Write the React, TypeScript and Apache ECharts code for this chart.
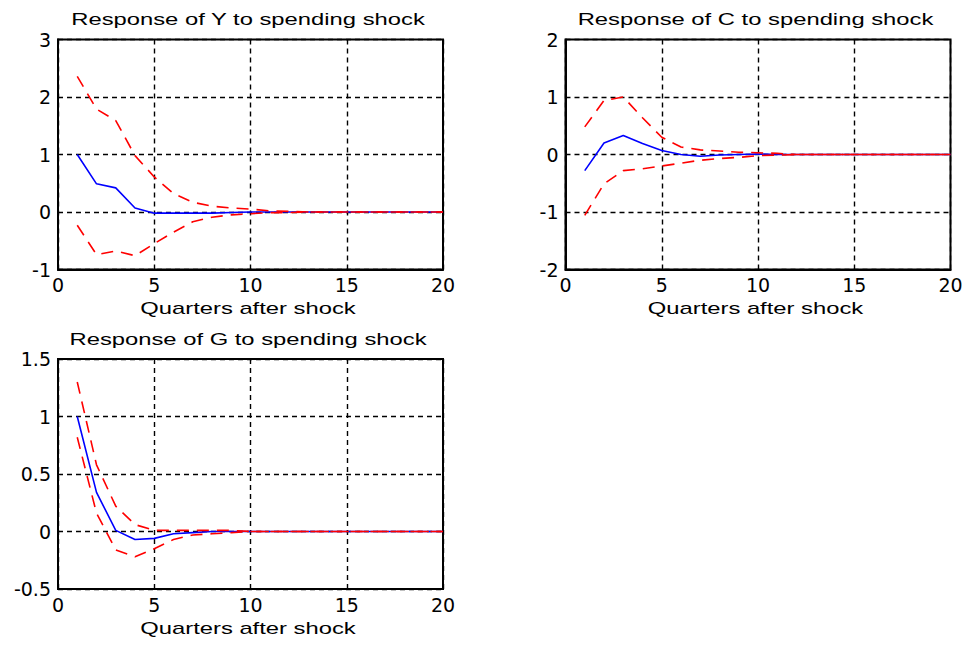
import React, { useEffect, useRef } from "react";
import * as echarts from "echarts";

const quarters = [1, 2, 3, 4, 5, 6, 7, 8, 9, 10, 11, 12, 13, 14, 15, 16, 17, 18, 19, 20];

const yResp = [1.0, 0.49, 0.42, 0.07, -0.02, -0.02, -0.02, -0.02, -0.01, 0.0, 0, 0, 0, 0, 0, 0, 0, 0, 0, 0];
const yUpper = [2.36, 1.79, 1.59, 0.98, 0.61, 0.32, 0.17, 0.1, 0.07, 0.05, 0.02, 0.01, 0, 0, 0, 0, 0, 0, 0, 0];
const yLower = [-0.23, -0.74, -0.68, -0.76, -0.55, -0.35, -0.17, -0.09, -0.05, -0.03, -0.01, -0.01, 0, 0, 0, 0, 0, 0, 0, 0];

const cResp = [-0.28, 0.2, 0.33, 0.19, 0.07, 0.0, -0.03, -0.01, 0.0, 0.01, 0, 0, 0, 0, 0, 0, 0, 0, 0, 0];
const cUpper = [0.48, 0.94, 1.0, 0.64, 0.3, 0.13, 0.08, 0.06, 0.04, 0.03, 0.02, 0, 0, 0, 0, 0, 0, 0, 0, 0];
const cLower = [-1.06, -0.51, -0.28, -0.25, -0.2, -0.15, -0.1, -0.07, -0.05, -0.02, -0.01, 0, 0, 0, 0, 0, 0, 0, 0, 0];

const gResp = [1.0, 0.34, 0.01, -0.07, -0.06, -0.02, -0.01, 0.0, 0, 0, 0, 0, 0, 0, 0, 0, 0, 0, 0, 0];
const gUpper = [1.3, 0.58, 0.22, 0.06, 0.01, 0.01, 0.01, 0.01, 0.01, 0, 0, 0, 0, 0, 0, 0, 0, 0, 0, 0];
const gLower = [0.82, 0.16, -0.16, -0.22, -0.15, -0.07, -0.03, -0.02, -0.01, 0, 0, 0, 0, 0, 0, 0, 0, 0, 0, 0];

const titles = [
  "Response of Y to spending shock",
  "Response of C to spending shock",
  "Response of G to spending shock",
];
const xAxisTitle = "Quarters after shock";
const xTicks = { min: 0, max: 20, interval: 5 };
const yRanges = [
  { min: -1, max: 3, interval: 1 },
  { min: -2, max: 2, interval: 1 },
  { min: -0.5, max: 1.5, interval: 0.5 },
];

export default function App() {
  const ref = useRef<HTMLDivElement>(null);
  useEffect(() => {
    document.body.style.margin = "0";
    if (!ref.current) return;
    const chart = echarts.init(ref.current, undefined, { renderer: "svg" });

    const grids = [
      { left: 58, top: 39.5, width: 385, height: 230 },
      { left: 565.5, top: 39.5, width: 385, height: 230 },
      { left: 58, top: 359, width: 385, height: 230 },
    ];
    const tickFont = { fontFamily: "DejaVu Sans", fontSize: 19, color: "#000" };
    const gridLine = { show: true, lineStyle: { color: "#000", width: 1.4, type: [5, 4] as any } };

    const xAxes = grids.map((_, i) => ({
      type: "value" as const,
      gridIndex: i,
      min: xTicks.min,
      max: xTicks.max,
      interval: xTicks.interval,
      axisLine: { show: true, onZero: false, lineStyle: { color: "#000", width: 2 } },
      axisTick: { show: true, inside: true, length: 4, lineStyle: { color: "#000" } },
      axisLabel: { ...tickFont, margin: 6 },
      splitLine: gridLine,
    }));
    const yAxes = grids.map((_, i) => ({
      type: "value" as const,
      gridIndex: i,
      min: yRanges[i].min,
      max: yRanges[i].max,
      interval: yRanges[i].interval,
      axisLine: { show: true, onZero: false, lineStyle: { color: "#000", width: 2 } },
      axisTick: { show: true, inside: true, length: 4, lineStyle: { color: "#000" } },
      axisLabel: { ...tickFont, margin: 7 },
      splitLine: gridLine,
    }));

    const sets = [
      [yResp, yUpper, yLower],
      [cResp, cUpper, cLower],
      [gResp, gUpper, gLower],
    ];
    const series: any[] = [];
    sets.forEach((s, i) => {
      const mk = (vals: number[], color: string, dashed: boolean) => ({
        type: "line",
        xAxisIndex: i,
        yAxisIndex: i,
        data: quarters.map((q, k) => [q, vals[k]]),
        showSymbol: false,
        symbol: "none",
        lineStyle: { color, width: 1.6, type: dashed ? [12, 8] : "solid" },
        z: dashed ? 3 : 2,
      });
      series.push(mk(s[0], "#0000ff", false));
      series.push(mk(s[1], "#ff0000", true));
      series.push(mk(s[2], "#ff0000", true));
    });

    const textStyle = (text: string) => ({
      text,
      fill: "#000",
      fontSize: 17,
      fontFamily: "Liberation Sans",
      align: "center",
      verticalAlign: "middle",
    });
    const labelPos = [
      { cx: 248, ty: 19, ny: 308 },
      { cx: 755.5, ty: 19, ny: 308 },
      { cx: 248, ty: 339, ny: 628 },
    ];
    const graphics: any[] = [];
    labelPos.forEach((p, i) => {
      graphics.push({ type: "text", x: p.cx, y: p.ty, scaleX: 1.4, style: textStyle(titles[i]) });
      graphics.push({ type: "text", x: p.cx, y: p.ny, scaleX: 1.4, style: textStyle(xAxisTitle) });
    });

    chart.setOption({
      animation: false,
      backgroundColor: "#fff",
      grid: grids.map((g) => ({
        ...g,
        show: true,
        borderColor: "#000",
        borderWidth: 2,
        backgroundColor: "#fff",
      })),
      xAxis: xAxes,
      yAxis: yAxes,
      series,
      graphic: graphics,
    });
    return () => chart.dispose();
  }, []);
  return <div ref={ref} style={{ width: 969, height: 651 }} />;
}
